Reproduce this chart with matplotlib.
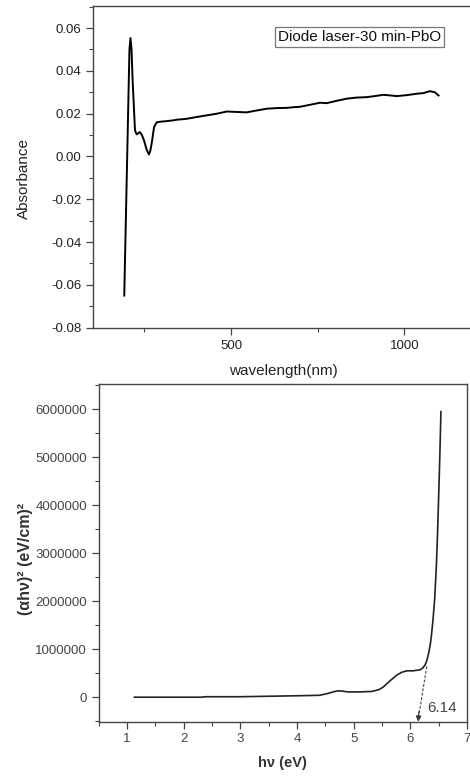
import numpy as np
import matplotlib
matplotlib.use("Agg")
import matplotlib.pyplot as plt
from matplotlib.ticker import MultipleLocator, ScalarFormatter

plt.rcParams['font.family'] = ['Liberation Sans', 'DejaVu Sans']

# UV-Vis absorbance spectrum
wavelength = [192, 207, 210, 213, 216, 223, 228, 237, 243, 249, 256, 263, 267,
              271, 278, 286, 300, 314, 330, 345, 360, 372, 400, 430, 460, 488,
              515, 545, 575, 603, 632, 661, 680, 699, 730, 757, 776, 805, 834,
              862, 891, 915, 939, 960, 978, 1005, 1036, 1055, 1074, 1088, 1099]
absorbance = [-0.065, 0.050, 0.0553, 0.050, 0.036, 0.0121, 0.0103, 0.0114,
              0.0100, 0.0075, 0.0035, 0.0009, 0.0025, 0.0060, 0.0137, 0.0160,
              0.0163, 0.0165, 0.0168, 0.0172, 0.0174, 0.0176, 0.0184, 0.0192,
              0.0200, 0.0210, 0.0208, 0.0206, 0.0215, 0.0223, 0.0226, 0.0227,
              0.0230, 0.0232, 0.0242, 0.0251, 0.0249, 0.0260, 0.0270, 0.0275,
              0.0277, 0.0282, 0.0288, 0.0285, 0.0282, 0.0286, 0.0293, 0.0296,
              0.0305, 0.0300, 0.0285]

# Tauc plot
photon_energy = [1.13, 1.5, 2.0, 2.3, 2.4, 3.0, 3.5, 4.0, 4.4, 4.55, 4.7, 4.78,
                 4.9, 5.1, 5.32, 5.45, 5.52, 5.65, 5.76, 5.85, 5.94, 6.05, 6.17,
                 6.22, 6.26, 6.29, 6.32, 6.35, 6.37, 6.40, 6.43, 6.46, 6.48,
                 6.50, 6.52, 6.54]
tauc = [0.0, 0.0, 0.0, 0.0, 0.01e6, 0.01e6, 0.02e6, 0.03e6, 0.04e6, 0.08e6,
        0.13e6, 0.13e6, 0.11e6, 0.11e6, 0.12e6, 0.16e6, 0.21e6, 0.35e6, 0.46e6,
        0.52e6, 0.55e6, 0.55e6, 0.57e6, 0.61e6, 0.67e6, 0.76e6, 0.90e6, 1.08e6,
        1.26e6, 1.61e6, 2.05e6, 2.75e6, 3.40e6, 4.18e6, 5.0e6, 5.95e6]
band_gap = 6.14

edge = '#444444'

fig = plt.figure(figsize=(4.70, 7.76), dpi=100)

# --- absorbance panel ---
ax1 = fig.add_axes([0.198, 0.5777, 0.834, 0.4146])
ax1.plot(wavelength, absorbance, color='black', lw=1.4)
ax1.set_xlim(102, 1233)
ax1.set_ylim(-0.08, 0.0703)
ax1.xaxis.set_major_locator(MultipleLocator(500))
ax1.xaxis.set_minor_locator(MultipleLocator(250))
ax1.yaxis.set_major_locator(MultipleLocator(0.02))
ax1.yaxis.set_minor_locator(MultipleLocator(0.01))
ax1.yaxis.set_major_formatter(plt.FormatStrFormatter('%.2f'))
ax1.tick_params(which='major', direction='out', length=5, width=0.9,
                color=edge, labelsize=9.5, labelcolor='#222222')
ax1.tick_params(which='minor', direction='out', length=3, width=0.8, color=edge)
for s in ax1.spines.values():
    s.set_color(edge)
    s.set_linewidth(1.0)
ax1.set_xlabel('wavelength(nm)', fontsize=11, color='#222222')
ax1.set_ylabel('Absorbance', fontsize=11, color='#222222')
ax1.xaxis.set_label_coords(0.486, -0.112)
ax1.yaxis.set_label_coords(-0.158, 0.465)
ax1.text(0.68, 0.904, 'Diode laser-30 min-PbO', transform=ax1.transAxes,
         ha='center', va='center', fontsize=11, color='#111111',
         bbox=dict(boxstyle='square,pad=0.2', fc='white', ec='#777777', lw=0.9))

# --- Tauc panel ---
ax2 = fig.add_axes([0.210, 0.0700, 0.7836, 0.4348], zorder=2)
ax2.set_facecolor('white')
ax2.plot(photon_energy, tauc, color='#222222', lw=1.2)
ax2.set_xlim(0.5, 7)
ax2.set_ylim(-0.51e6, 6.52e6)
ax2.xaxis.set_major_locator(MultipleLocator(1))
ax2.xaxis.set_minor_locator(MultipleLocator(0.5))
ax2.yaxis.set_major_locator(MultipleLocator(1e6))
ax2.yaxis.set_minor_locator(MultipleLocator(5e5))
fmt = ScalarFormatter(useOffset=False)
fmt.set_scientific(False)
ax2.yaxis.set_major_formatter(fmt)
ax2.tick_params(which='major', direction='out', length=5, width=0.9,
                color=edge, labelsize=9.5, labelcolor='#444444')
ax2.tick_params(which='minor', direction='out', length=3, width=0.8, color=edge)
for s in ax2.spines.values():
    s.set_color(edge)
    s.set_linewidth(1.0)
ax2.set_xlabel('hν (eV)', fontsize=10.5, fontweight='bold', color='#333333')
ax2.set_ylabel('(αhν)² (eV/cm)²', fontsize=11.5, fontweight='bold', color='#333333')
ax2.xaxis.set_label_coords(0.50, -0.102)
ax2.yaxis.set_label_coords(-0.178, 0.482)

# extrapolation of the absorption edge down to the energy axis
ax2.plot([6.29, band_gap + 0.01], [0.64e6, -0.38e6], ls=(0, (2.5, 1.5)),
         color='#444444', lw=0.8)
ax2.annotate('', xy=(band_gap, -0.51e6), xytext=(band_gap + 0.01, -0.3e6),
             arrowprops=dict(arrowstyle='-|>', color='#333333', lw=0.8,
                             mutation_scale=8, shrinkA=0, shrinkB=0))
ax2.text(6.30, -0.22e6, f'{band_gap:.2f}', fontsize=11, color='#444444',
         ha='left', va='center')

fig.savefig('out.png', dpi=100)
